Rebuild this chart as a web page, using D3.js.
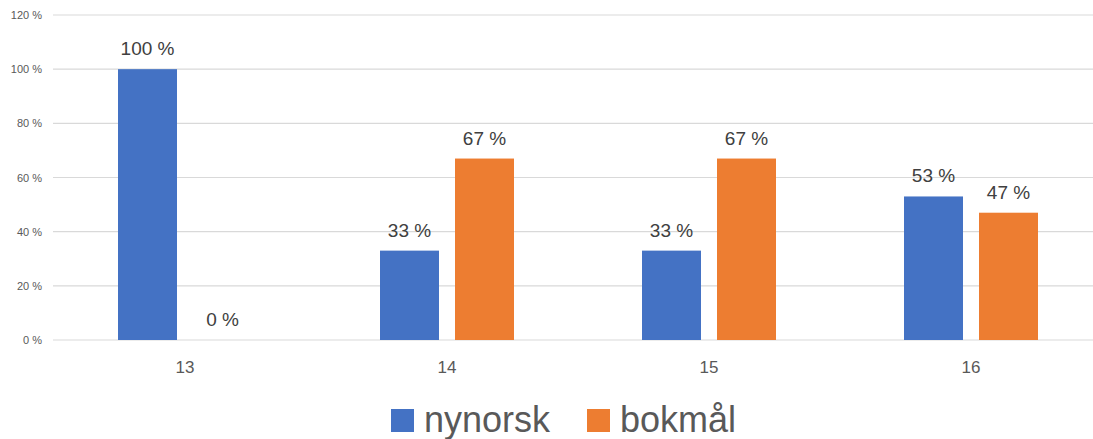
<!DOCTYPE html>
<html>
<head>
<meta charset="utf-8">
<script src="https://cdn.jsdelivr.net/npm/d3@7"></script>
<style>
  html, body { margin: 0; padding: 0; background: #fff; }
  svg { display: block; font-family: "Liberation Sans", Arial, sans-serif; }
</style>
</head>
<body>
<svg id="chart" width="1093" height="439"></svg>
<script>
// Share of pupils by written standard, per age
const categories = ["13", "14", "15", "16"];
const seriesNames = ["nynorsk", "bokmål"];
const nynorsk = [100, 33, 33, 53];
const bokmal = [0, 67, 67, 47];
const yTicks = [0, 20, 40, 60, 80, 100, 120];
const colors = ["#4472C4", "#ED7D31"];

const svg = d3.select("#chart");
const W = 1093;

const x = d3.scaleBand().domain(categories).range([54, 1102]).paddingInner(0).paddingOuter(0);
const y = d3.scaleLinear().domain([0, 120]).range([340, 15]);
const barW = 59, gap = 16;
const groupW = 2 * barW + gap;
const xs = d3.scaleBand().domain(seriesNames).range([0, groupW]).paddingInner(gap / (barW + gap)).paddingOuter(0);

// gridlines
svg.append("g")
  .selectAll("line")
  .data(yTicks)
  .join("line")
  .attr("x1", 53).attr("x2", W)
  .attr("y1", d => y(d)).attr("y2", d => y(d))
  .attr("stroke", "#D9D9D9").attr("stroke-width", 1.2);

// y axis labels
const yAxis = d3.axisLeft(y).tickValues(yTicks).tickFormat(d => d + " %").tickSize(0).tickPadding(0);
svg.append("g")
  .attr("transform", "translate(42,0)")
  .call(yAxis)
  .call(g => g.select(".domain").remove())
  .call(g => g.selectAll("text")
    .attr("fill", "#595959")
    .style("font-size", "11px")
    .style("font-family", "Liberation Sans, Arial, sans-serif"));

// bars
const rows = categories.map((c, i) => ({ cat: c, vals: [nynorsk[i], bokmal[i]] }));
const groups = svg.append("g").selectAll("g")
  .data(rows)
  .join("g")
  .attr("transform", d => `translate(${x(d.cat) + x.bandwidth() / 2 - groupW / 2},0)`);

groups.selectAll("rect")
  .data(d => d.vals.map((v, k) => ({ v, k })))
  .join("rect")
  .attr("x", d => xs(seriesNames[d.k]))
  .attr("width", xs.bandwidth())
  .attr("y", d => y(d.v))
  .attr("height", d => y(0) - y(d.v))
  .attr("fill", d => colors[d.k]);

// value labels
groups.selectAll("text")
  .data(d => d.vals.map((v, k) => ({ v, k })))
  .join("text")
  .attr("x", d => xs(seriesNames[d.k]) + xs.bandwidth() / 2)
  .attr("y", d => y(d.v) - 14)
  .attr("text-anchor", "middle")
  .attr("fill", "#404040")
  .style("font-size", "19px")
  .text(d => d.v + " %");

// category axis
const xAxis = d3.axisBottom(x).tickSize(0).tickPadding(0);
svg.append("g")
  .attr("transform", "translate(0,361)")
  .call(xAxis)
  .call(g => g.select(".domain").remove())
  .call(g => g.selectAll("text")
    .attr("fill", "#595959")
    .attr("dy", "0.71em")
    .style("font-size", "17px")
    .style("font-family", "Liberation Sans, Arial, sans-serif"));

// legend
const legendX = [391, 587];
const legend = svg.append("g").selectAll("g")
  .data(seriesNames)
  .join("g")
  .attr("transform", (d, i) => `translate(${legendX[i]},409)`);
legend.append("rect")
  .attr("width", 23).attr("height", 23)
  .attr("fill", (d, i) => colors[i]);
legend.append("text")
  .attr("x", 33).attr("y", 23)
  .attr("fill", "#595959")
  .style("font-size", "36px")
  .text(d => d);
</script>
</body>
</html>
